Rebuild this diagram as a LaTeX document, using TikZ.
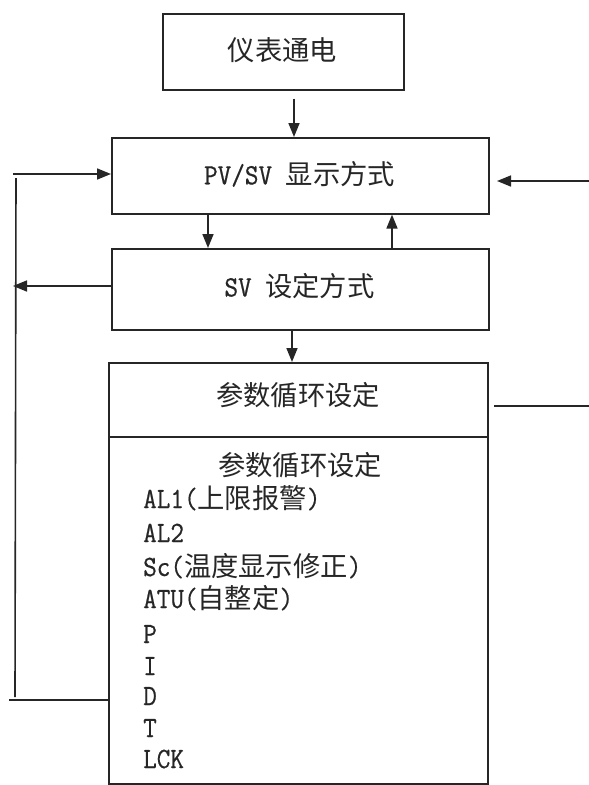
\documentclass[tikz,border=0pt]{standalone}
\usepackage{fontspec}
\newfontfamily\cjk{Noto Sans CJK SC}[Scale=1.05]
\setmonofont{Latin Modern Mono}[Scale=1.13, FakeStretch=0.9, FakeBold=0.6]
\usetikzlibrary{arrows.meta}
\newcommand\zh[1]{{\cjk #1}}
\tikzset{
  ln/.style={line width=1.6pt, draw=black!85},
  arr/.style={ln, -{Triangle[length=14pt,width=11pt]}},
  boxx/.style={ln, rectangle, inner sep=0pt, anchor=north west},
  txt/.style={font=\ttfamily\fontsize{26}{30}\selectfont, text=black!85, inner sep=0pt},
  item/.style={txt, anchor=base west}
}
\begin{document}
\begin{tikzpicture}[x=1pt,y=-1pt]
\useasboundingbox[fill=white] (0,0) rectangle (589,785);
% boxes
\node[boxx, minimum width=241pt, minimum height=76pt] (b1) at (162,13) {};
\node[boxx, minimum width=377pt, minimum height=76pt] (b2) at (111,137) {};
\node[boxx, minimum width=377pt, minimum height=81pt] (b3) at (111,248) {};
\node[boxx, minimum width=379pt, minimum height=421pt] (b4) at (108,362) {};
\draw[ln] (108,437) coordinate (d1) -- (d1 -| b4.east);
% texts
\node[txt] (t1) at (282.5,50) {\zh{仪表通电}};
\node[txt] (t2) at (299.5,174) {PV/SV \zh{显示方式}};
\node[txt] (t3) at (299.5,286) {SV \zh{设定方式}};
\node[txt] (t4) at (298,395) {\zh{参数循环设定}};
\node[txt] (t5) at (300,465) {\zh{参数循环设定}};
\node[item] (i1) at (143,508) {AL1(\zh{上限报警})};
\node[item] (i2) at (143,542) {AL2};
\node[item] (i3) at (143,576) {Sc(\zh{温度显示修正})};
\node[item] (i4) at (143,608) {ATU(\zh{自整定})};
\node[item] (i5) at (143,643) {P};
\node[item] (i6) at (143,675) {I};
\node[item] (i7) at (143,705) {D};
\node[item] (i8) at (143,737) {T};
\node[item] (i9) at (143,768) {LCK};
% vertical connectors
\draw[arr, shorten <=8pt] (b1.south -| 294,0) -- (b2.north -| 294,0);
\draw[arr] (b2.south -| 208,0) -- (b3.north -| 208,0);
\draw[arr] (b3.north -| 392,0) -- (b2.south -| 392,0);
\draw[arr] (b3.south -| 292,0) -- (b4.north -| 292,0);
% left loop
\coordinate (lt) at (13,174);
\coordinate (vt) at (16,178);
\coordinate (vb) at (15,697);
\coordinate (lb) at (9,700);
\coordinate (l3) at (13,286);
\draw[arr] (lt) -- (lt -| b2.west);
\draw[ln] (vt) -- (vb);
\draw[ln] (lb) -- (lb -| b4.west);
\draw[arr] (l3 -| b3.west) -- (l3);
% right side
\coordinate (r1) at (589,181);
\coordinate (r1e) at (497,181);
\coordinate (r2) at (589,406);
\coordinate (r2s) at (494,406);
\draw[arr] (r1) -- (r1e);
\draw[ln] (r2s) -- (r2);
\end{tikzpicture}
\end{document}
